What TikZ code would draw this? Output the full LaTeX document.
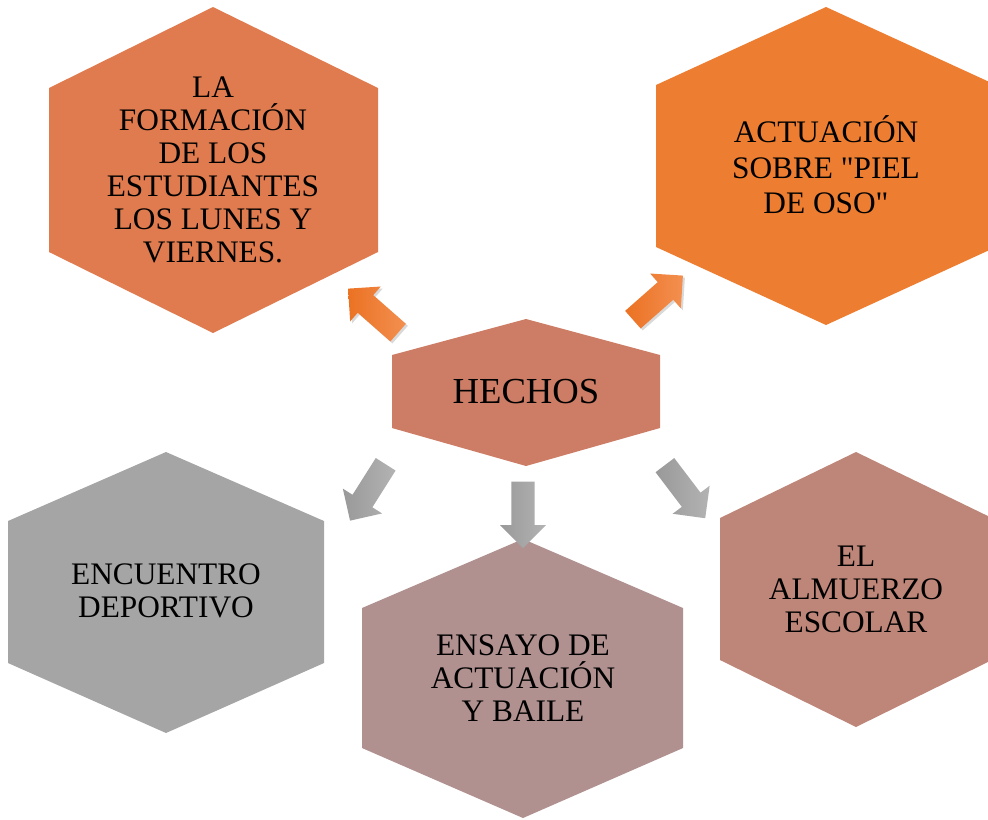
\documentclass[tikz,border=0pt]{standalone}
\usepackage{fontspec}
\setmainfont{Liberation Serif}[Ligatures=TeXOff]
\usetikzlibrary{shapes.arrows,shadows}
\definecolor{naranjaA}{HTML}{DF7B4E}
\definecolor{naranjaB}{HTML}{ED7D31}
\definecolor{salmon}{HTML}{CD7D65}
\definecolor{grisH}{HTML}{A5A5A5}
\definecolor{malva}{HTML}{B09190}
\definecolor{rosado}{HTML}{BE8579}
\definecolor{colaN}{HTML}{EB7223}
\definecolor{puntaN}{HTML}{F38F50}
\definecolor{colaG}{HTML}{999999}
\definecolor{puntaG}{HTML}{B3B3B3}

\begin{document}
\begin{tikzpicture}[x=0.75pt,y=-0.75pt]
\tikzset{texto/.style={align=center, inner sep=0pt, font=\fontsize{23.5}{24.75}\selectfont}}
\tikzset{flecha/.style={single arrow, draw=none, inner xsep=0pt, inner ysep=8.6pt,
  minimum height=50pt, single arrow head extend=8.6pt}}
\tikzset{flechanaranja/.style={flecha, left color=colaN, right color=puntaN,
  drop shadow={shadow xshift=1.5pt, shadow yshift=-1.5pt, opacity=0.3}}}
\tikzset{flechagris/.style={flecha, left color=colaG, right color=puntaG}}
\useasboundingbox (0,0) rectangle (988,819);
\clip (0,0) rectangle (988,819);
% hexagonos
\fill[naranjaA] (49,88) -- (213,7) -- (378,88) -- (378,252) -- (213,333) -- (49,252) -- cycle;
\fill[naranjaB] (656,85) -- (826,7) -- (996,85) -- (996,247) -- (826,325) -- (656,247) -- cycle;
\fill[salmon] (392,355) -- (526,319) -- (660,355) -- (660,428) -- (526,466) -- (392,428) -- cycle;
\fill[grisH] (8,521) -- (166,452) -- (324,521) -- (324,663) -- (166,733) -- (8,663) -- cycle;
\fill[malva] (362,608) -- (523,539) -- (683,608) -- (683,748) -- (523,818) -- (362,748) -- cycle;
\fill[rosado] (720,518) -- (856,452) -- (992,518) -- (992,660) -- (856,727) -- (720,660) -- cycle;
\node[texto] (formacion) at (213,170) {LA\\FORMACIÓN\\DE LOS\\ESTUDIANTES\\LOS LUNES Y\\VIERNES.};
\node[texto, font=\fontsize{23.5}{26.5}\selectfont] (actuacion) at (826,165) {ACTUACIÓN\\SOBRE "PIEL\\DE OSO"};
\node[texto, font=\fontsize{27.5}{30}\selectfont] (hechos) at (526,392) {HECHOS};
\node[texto] (encuentro) at (166,591) {ENCUENTRO\\DEPORTIVO};
\node[texto] (ensayo) at (523,678) {ENSAYO DE\\ACTUACIÓN\\Y BAILE};
\node[texto] (almuerzo) at (856,589) {EL\\ALMUERZO\\ESCOLAR};
% flechas
\node[flechanaranja, rotate=138.7] (f1) at (377.5,314.5) {};
\node[flechanaranja, rotate=41.4] (f2) at (653.5,301.5) {};
\node[flechagris, rotate=-122.3] (f3) at (371,487.5) {};
\node[flechagris, rotate=-90] (f4) at (523,509) {};
\node[flechagris, rotate=-52.8] (f5) at (681.5,487) {};
\end{tikzpicture}
\end{document}
